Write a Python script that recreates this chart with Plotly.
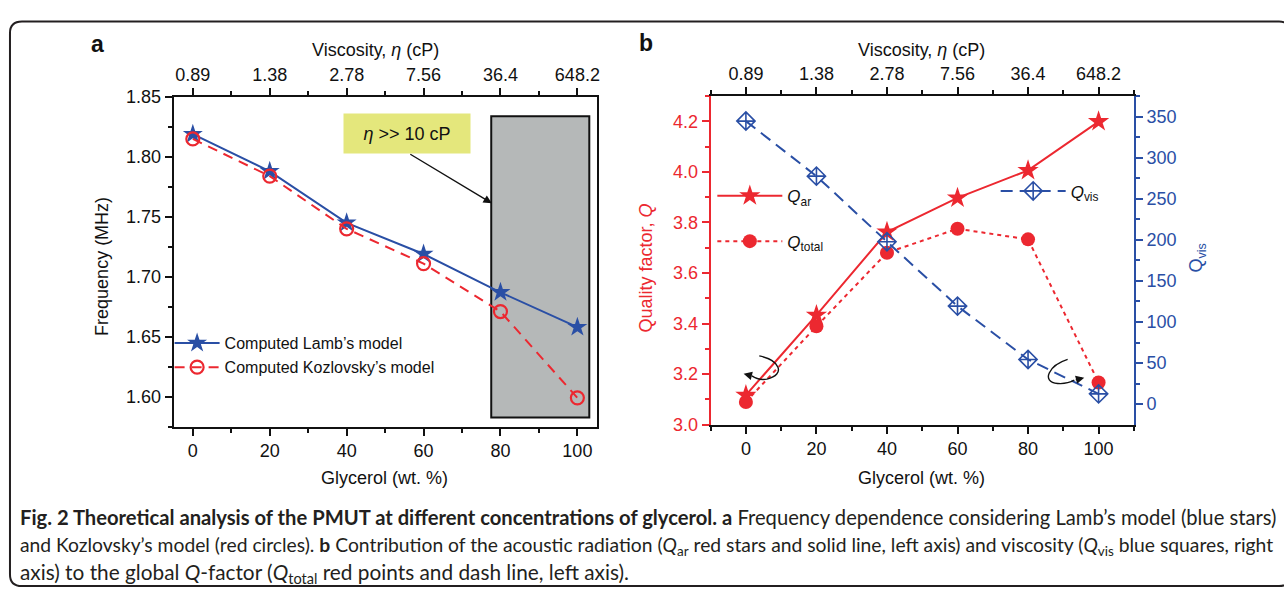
import plotly.graph_objects as go

# ---------------- data ----------------
glycerol = [0, 20, 40, 60, 80, 100]
viscosity_labels = ["0.89", "1.38", "2.78", "7.56", "36.4", "648.2"]
freq_lamb = [1.819, 1.788, 1.745, 1.719, 1.687, 1.658]
freq_kozlovsky = [1.815, 1.784, 1.740, 1.711, 1.671, 1.599]
q_ar = [3.117, 3.433, 3.762, 3.897, 4.006, 4.199]
q_total = [3.090, 3.389, 3.680, 3.775, 3.733, 3.167]
q_vis = [344.5, 277.5, 197.7, 119.3, 54.4, 12.5]

freq_ticks = [1.60, 1.65, 1.70, 1.75, 1.80, 1.85]
q_ticks = [3.0, 3.2, 3.4, 3.6, 3.8, 4.0, 4.2]
qvis_ticks = [0, 50, 100, 150, 200, 250, 300, 350]

W, H = 1284, 599
RED = "#ec2830"
BLUE = "#2a4fa5"
BLACK = "#111111"
FONT = "Liberation Sans, Arial, sans-serif"
TICK = 18


def px(x):
    return x / W


def py(y):
    return 1 - y / H


fig = go.Figure()

# ---------- panel a ----------
fig.add_trace(go.Scatter(
    x=glycerol, y=freq_lamb, mode="lines+markers", name="Computed Lamb’s model",
    line=dict(color=BLUE, width=2), marker=dict(symbol="star", size=15, color=BLUE),
    xaxis="x", yaxis="y", legend="legend"))
fig.add_trace(go.Scatter(
    x=glycerol, y=freq_kozlovsky, mode="lines+markers", name="Computed Kozlovsky’s model",
    line=dict(color=RED, width=2, dash="10px,7px"),
    marker=dict(symbol="circle-open", size=13, color=RED, line=dict(width=2.2)),
    xaxis="x", yaxis="y", legend="legend5"))
# invisible trace to carry the top (viscosity) axis
fig.add_trace(go.Scatter(x=glycerol, y=freq_lamb, mode="markers", marker=dict(opacity=0),
                         showlegend=False, hoverinfo="skip", xaxis="x2", yaxis="y"))

# ---------- panel b ----------
fig.add_trace(go.Scatter(
    x=glycerol, y=q_ar, mode="lines+markers", name="<i>Q</i><sub>ar</sub>",
    line=dict(color=RED, width=2), marker=dict(symbol="star", size=16, color=RED),
    xaxis="x3", yaxis="y3", legend="legend2"))
fig.add_trace(go.Scatter(
    x=glycerol, y=q_total, mode="lines+markers", name="<i>Q</i><sub>total</sub>",
    line=dict(color=RED, width=2, dash="4px,4px"), marker=dict(symbol="circle", size=14, color=RED),
    xaxis="x3", yaxis="y3", legend="legend3"))
fig.add_trace(go.Scatter(
    x=glycerol, y=q_vis, mode="lines+markers", name="<i>Q</i><sub>vis</sub>",
    line=dict(color=BLUE, width=2, dash="12px,7px"),
    marker=dict(symbol="diamond-cross-open", size=14, color=BLUE, line=dict(width=1.6)),
    xaxis="x3", yaxis="y4", legend="legend4"))
fig.add_trace(go.Scatter(x=glycerol, y=q_ar, mode="markers", marker=dict(opacity=0),
                         showlegend=False, hoverinfo="skip", xaxis="x4", yaxis="y3"))

tickfont = dict(family=FONT, size=TICK, color=BLACK)
common_x = dict(showgrid=False, zeroline=False, showline=True, linewidth=2, linecolor=BLACK,
                ticks="outside", ticklen=7, tickwidth=1.6, tickcolor=BLACK, tickfont=tickfont)

dom_a = [px(174), px(598)]
dom_b = [px(712.3), px(1136.5)]
ydom_a = [py(431), py(90)]
ydom_b = [py(429), py(89)]


def leg(x, ytop, size):
    return dict(x=px(x), y=py(ytop), xanchor="left", yanchor="top", bgcolor="rgba(0,0,0,0)",
                font=dict(family=FONT, size=size, color=BLACK), itemwidth=45)


fig.update_layout(
    width=W, height=H, margin=dict(l=0, r=0, t=0, b=0),
    paper_bgcolor="white", plot_bgcolor="white", font=dict(family=FONT, color=BLACK),
    xaxis=dict(common_x, domain=dom_a, range=[-5, 105], anchor="y",
               tickmode="array", tickvals=glycerol,
               minor=dict(tickvals=[10, 30, 50, 70, 90], ticks="outside", ticklen=4, tickcolor=BLACK, tickwidth=1.6)),
    xaxis2=dict(common_x, domain=dom_a, range=[-5, 105], anchor="y", overlaying="x", side="top",
                tickmode="array", tickvals=glycerol, ticktext=viscosity_labels,
                minor=dict(tickvals=[10, 30, 50, 70, 90], ticks="outside", ticklen=4, tickcolor=BLACK, tickwidth=1.6)),
    yaxis=dict(domain=ydom_a, range=[1.575, 1.85], anchor="x", showgrid=False, zeroline=False,
               showline=True, linewidth=2, linecolor=BLACK, mirror=True,
               ticks="outside", ticklen=7, tickwidth=1.6, tickcolor=BLACK, tickfont=tickfont,
               tickmode="array", tickvals=freq_ticks, ticktext=[f"{v:.2f}" for v in freq_ticks],
               minor=dict(tickvals=[1.575, 1.625, 1.675, 1.725, 1.775, 1.825], ticks="outside",
                          ticklen=4, tickcolor=BLACK, tickwidth=1.6)),
    xaxis3=dict(common_x, domain=dom_b, range=[-10, 110], anchor="y3",
                tickmode="array", tickvals=glycerol,
                minor=dict(tickvals=[-10, 10, 30, 50, 70, 90, 110], ticks="outside", ticklen=4, tickcolor=BLACK, tickwidth=1.6)),
    xaxis4=dict(common_x, domain=dom_b, range=[-10, 110], anchor="y3", overlaying="x3", side="top",
                tickmode="array", tickvals=glycerol, ticktext=viscosity_labels,
                minor=dict(tickvals=[-10, 10, 30, 50, 70, 90, 110], ticks="outside", ticklen=4, tickcolor=BLACK, tickwidth=1.6)),
    yaxis3=dict(domain=ydom_b, range=[3.0, 4.3], anchor="x3", showgrid=False, zeroline=False,
                showline=True, linewidth=2, linecolor=RED,
                ticks="outside", ticklen=7, tickwidth=1.6, tickcolor=RED,
                tickfont=dict(family=FONT, size=TICK, color=RED),
                tickmode="array", tickvals=q_ticks, ticktext=[f"{v:.1f}" for v in q_ticks],
                minor=dict(tickvals=[3.1, 3.3, 3.5, 3.7, 3.9, 4.1, 4.3], ticks="outside",
                           ticklen=4, tickcolor=RED, tickwidth=1.6)),
    yaxis4=dict(domain=ydom_b, range=[-25, 375], anchor="x3", overlaying="y3", side="right",
                showgrid=False, zeroline=False, showline=True, linewidth=2, linecolor=BLUE,
                ticks="outside", ticklen=7, tickwidth=1.6, tickcolor=BLUE,
                tickfont=dict(family=FONT, size=TICK, color=BLUE),
                tickmode="array", tickvals=qvis_ticks,
                minor=dict(tickvals=[25, 75, 125, 175, 225, 275, 325, 375], ticks="outside",
                           ticklen=4, tickcolor=BLUE, tickwidth=1.6)),
    legend=leg(170, 327, 16),
    legend5=leg(170, 352, 16),
    legend2=dict(leg(714, 174, 17), itemwidth=65),
    legend3=dict(leg(714, 221, 17), itemwidth=65),
    legend4=dict(leg(998, 169, 17), itemwidth=65),
)

# ---------- shapes ----------
shapes = []
# gray region eta >> 10 cP
shapes.append(dict(type="rect", xref="x", yref="y", x0=77.6, x1=103.1, y0=1.5826, y1=1.8339,
                   fillcolor="#b5b8b8", line=dict(color=BLACK, width=2), layer="below"))
# curved arrows panel b
shapes.append(dict(type="path", xref="x3", yref="y3",
                   path="M 3.79,3.272 C 9.5,3.255 11.5,3.2 5.94,3.18 Q 3.5,3.175 1.7,3.193",
                   line=dict(color=BLACK, width=1.4)))
shapes.append(dict(type="path", xref="x3", yref="y3",
                   path="M 91.23,3.258 C 86,3.235 83.5,3.17 88.4,3.163 Q 91,3.16 93.12,3.176",
                   line=dict(color=BLACK, width=1.4)))
# rounded frame
L, T, R, B, r = 10, 12, 1294, 596, 12
pts = (f"M {px(L)},{py(T + r)} L {px(L)},{py(B - r)} Q {px(L)},{py(B)} {px(L + r)},{py(B)} "
       f"L {px(R - r)},{py(B)} Q {px(R)},{py(B)} {px(R)},{py(B - r)} L {px(R)},{py(T + r)} "
       f"Q {px(R)},{py(T)} {px(R - r)},{py(T)} L {px(L + r)},{py(T)} Q {px(L)},{py(T)} {px(L)},{py(T + r)} Z")
shapes.append(dict(type="path", xref="paper", yref="paper", path=pts,
                   line=dict(color="#231f20", width=2)))
fig.update_layout(shapes=shapes)

# ---------- annotations ----------
ann = []


def text(x, y, s, size=18, color=BLACK, angle=0, xanchor="center", family=FONT):
    ann.append(dict(x=px(x), y=py(y), xref="paper", yref="paper", text=s, showarrow=False,
                    font=dict(family=family, size=size, color=color), textangle=angle,
                    xanchor=xanchor, yanchor="middle"))


text(98, 35, "<b>a</b>", size=23)
text(648, 34, "<b>b</b>", size=23)
text(376, 41, "Viscosity, <i>η</i> (cP)")
text(924, 41, "Viscosity, <i>η</i> (cP)")
text(385, 484, "Glycerol (wt. %)")
text(924, 484, "Glycerol (wt. %)")
text(102, 265, "Frequency (MHz)", angle=-90)
text(648, 267, "Quality factor, <i>Q</i>", color=RED, angle=-90)
text(1200, 257, "Q<sub>vis</sub>", color=BLUE, angle=-90)

# yellow label box
ann.append(dict(x=px(408), y=py(128), xref="paper", yref="paper", text="<i>η</i> >> 10 cP",
                showarrow=False, font=dict(family=FONT, size=18, color=BLACK),
                bgcolor="#e4e77c", width=126, height=39, borderpad=0, xanchor="center", yanchor="middle"))
# straight arrow to gray region
ann.append(dict(x=px(493), y=py(200), xref="paper", yref="paper", ax=-83, ay=-50, text="",
                showarrow=True, arrowhead=2, arrowsize=1.2, arrowwidth=1.4, arrowcolor=BLACK))
# arrowheads of curved arrows
ann.append(dict(x=-0.65, y=3.201, xref="x3", yref="y3", ax=1.7, ay=3.193, axref="x3", ayref="y3",
                text="", showarrow=True, arrowhead=2, arrowsize=1.2, arrowwidth=1.4, arrowcolor=BLACK))
ann.append(dict(x=95.94, y=3.186, xref="x3", yref="y3", ax=93.12, ay=3.176, axref="x3", ayref="y3",
                text="", showarrow=True, arrowhead=2, arrowsize=1.2, arrowwidth=1.4, arrowcolor=BLACK))

# caption
CAP = "Lato, Open Sans, sans-serif"
CAPC = "#231f20"
text(18, 524, "<b>Fig. 2 Theoretical analysis of the PMUT at different concentrations of glycerol. a</b> "
              "Frequency dependence considering Lamb’s model (blue stars)", size=20.2, color=CAPC,
     xanchor="left", family=CAP)
text(18, 554, "and Kozlovsky’s model (red circles). <b>b</b> Contribution of the acoustic radiation "
              "(<i>Q</i><sub>ar</sub> red stars and solid line, left axis) and viscosity "
              "(<i>Q</i><sub>vis</sub> blue squares, right", size=19.3, color=CAPC, xanchor="left", family=CAP)
text(18, 582, "axis) to the global <i>Q</i>-factor (<i>Q</i><sub>total</sub> red points and dash line, left axis).",
     size=20.8, color=CAPC, xanchor="left", family=CAP)

fig.update_layout(annotations=ann)
fig.write_html("out.html")
